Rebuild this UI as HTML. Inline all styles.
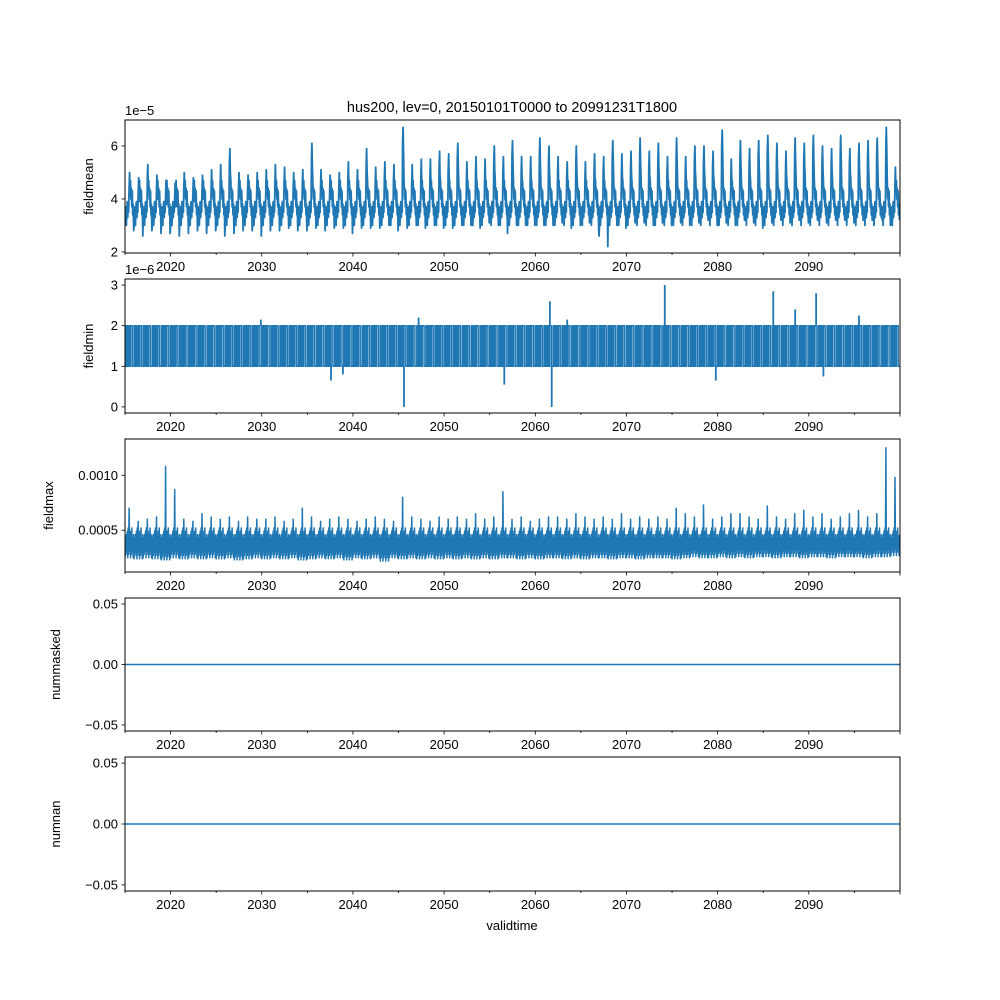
<!DOCTYPE html>
<html><head><meta charset="utf-8"><style>
body{margin:0;background:#fff}
svg{display:block;font-family:"Liberation Sans","DejaVu Sans",sans-serif}
</style></head><body>
<svg id="fig" width="1000" height="1000" xmlns="http://www.w3.org/2000/svg"></svg>
<script>
const years=[];for(let y=2015;y<=2099;y++)years.push(y);
const meanPeaks=[5.0,4.8,5.3,4.9,4.7,4.6,5.0,4.8,4.9,5.1,5.3,5.9,5.0,4.9,5.0,5.1,5.3,5.2,5.0,5.1,6.1,5.1,4.9,5.0,5.4,5.1,5.9,5.2,5.4,5.3,6.7,5.3,5.5,5.5,5.8,5.7,6.1,5.4,5.6,5.5,6.0,5.6,6.2,5.6,5.6,6.3,6.0,5.6,5.4,6.0,5.4,5.7,5.6,6.2,5.7,5.8,6.3,5.8,6.1,5.6,6.3,5.6,6.0,6.0,5.8,6.6,5.5,6.2,5.9,6.2,6.4,6.1,5.8,6.3,6.1,6.4,6.0,5.9,6.4,5.9,6.1,6.2,6.3,6.7,5.2];
const meanTroughs=[2.8,2.6,2.8,2.7,2.7,2.6,2.7,2.8,2.7,2.8,2.6,2.7,2.8,2.8,2.6,2.8,2.8,2.9,2.8,2.8,2.9,2.8,2.9,2.9,2.7,2.9,2.9,2.9,3.0,2.8,2.9,3.0,2.9,3.0,2.9,2.9,3.0,3.0,2.9,3.1,3.0,2.7,3.0,3.0,3.0,3.0,3.0,3.1,2.9,3.0,3.1,2.8,2.2,3.0,2.9,3.1,3.1,3.0,3.1,3.0,3.1,3.0,3.1,3.2,3.0,3.1,3.0,3.2,3.1,2.9,3.1,3.2,3.1,3.2,3.1,3.2,3.1,3.2,3.2,3.1,3.2,3.2,3.3,3.0,3.2];
const minSpikeTimes=[2037.6,2038.9,2045.6,2056.6,2061.8,2061.6,2074.2,2079.8,2086.1,2090.8,2091.6,2088.5,2029.9,2047.2,2063.5,2095.5];
const minSpikeValues=[0.65,0.8,0.0,0.55,0.0,2.6,3.0,0.65,2.85,2.8,0.75,2.4,2.15,2.2,2.15,2.25];
const maxPeaks=[0.00070,0.00058,0.00060,0.00062,0.00108,0.00087,0.00060,0.00058,0.00065,0.00062,0.00060,0.00062,0.00058,0.00062,0.00060,0.00060,0.00062,0.00058,0.00060,0.00070,0.00062,0.00058,0.00060,0.00062,0.00060,0.00058,0.00060,0.00062,0.00060,0.00058,0.00080,0.00062,0.00060,0.00058,0.00062,0.00060,0.00062,0.00060,0.00065,0.00060,0.00062,0.00085,0.00060,0.00062,0.00058,0.00060,0.00062,0.00062,0.00060,0.00065,0.00062,0.00060,0.00062,0.00060,0.00065,0.00060,0.00062,0.00060,0.00062,0.00060,0.00070,0.00065,0.00062,0.00073,0.00060,0.00062,0.00065,0.00065,0.00062,0.00060,0.00072,0.00062,0.00060,0.00065,0.00068,0.00062,0.00065,0.00060,0.00062,0.00065,0.00068,0.00062,0.00065,0.00125,0.00098];
const maxTroughs=[0.00025,0.00024,0.00025,0.00024,0.00023,0.00025,0.00024,0.00025,0.00024,0.00025,0.00024,0.00025,0.00023,0.00024,0.00025,0.00024,0.00025,0.00024,0.00025,0.00023,0.00024,0.00025,0.00024,0.00025,0.00023,0.00025,0.00024,0.00025,0.00022,0.00025,0.00024,0.00025,0.00024,0.00025,0.00024,0.00025,0.00024,0.00025,0.00024,0.00025,0.00024,0.00025,0.00025,0.00024,0.00025,0.00024,0.00025,0.00025,0.00024,0.00025,0.00024,0.00025,0.00025,0.00024,0.00025,0.00025,0.00024,0.00025,0.00025,0.00025,0.00024,0.00025,0.00026,0.00025,0.00025,0.00026,0.00025,0.00026,0.00025,0.00026,0.00026,0.00025,0.00026,0.00026,0.00025,0.00026,0.00026,0.00025,0.00026,0.00026,0.00026,0.00025,0.00026,0.00026,0.00027];
const xTicks=[2020,2030,2040,2050,2060,2070,2080,2090];
const panels=[
 {name:'fieldmean',top:120,bot:253,lo:1.96,hi:6.98,ticks:[2,4,6],labels:['2','4','6'],off:'1e−5',tx:93},
 {name:'fieldmin',top:279,bot:413,lo:-0.15,hi:3.15,ticks:[0,1,2,3],labels:['0','1','2','3'],off:'1e−6',tx:93},
 {name:'fieldmax',top:439,bot:572,lo:0.00012,hi:0.00133,ticks:[0.0005,0.001],labels:['0.0005','0.0010'],tx:53},
 {name:'nummasked',top:598,bot:731,lo:-0.055,hi:0.055,ticks:[-0.05,0,0.05],labels:['−0.05','0.00','0.05'],tx:60},
 {name:'numnan',top:757,bot:891,lo:-0.055,hi:0.055,ticks:[-0.05,0,0.05],labels:['−0.05','0.00','0.05'],tx:60}];
const L=125,R=900,C='#1f77b4';
const svg=document.getElementById('fig');const NS='http://www.w3.org/2000/svg';
function el(t,a,p){const e=document.createElementNS(NS,t);for(const k in a)e.setAttribute(k,a[k]);(p||svg).appendChild(e);return e;}
const X=t=>L+(t-2015)*(R-L)/85;
panels.forEach((p,i)=>{
 const Y=v=>p.bot-(v-p.lo)/(p.hi-p.lo)*(p.bot-p.top);
 const g=el('g',{});
 
 
 const clip=el('clipPath',{id:'c'+i},g);el('rect',{x:L,y:p.top,width:R-L,height:p.bot-p.top},clip);
 const d=el('g',{'clip-path':'url(#c'+i+')'},g);
 
 
 let pts=[];let sw=1.5;
 if(i===0){
  sw=1.8;
  years.forEach((y,k)=>{const pk=meanPeaks[k],tr=meanTroughs[k];
   pts.push([y,tr+0.4],[y+0.05,3.2],[y+0.1,3.7],[y+0.15,3.0],[y+0.2,3.6],[y+0.25,3.9],[y+0.3,3.3],[y+0.35,3.8],[y+0.4,3.5],[y+0.45,pk-0.6],[y+0.5,pk],[y+0.55,pk-0.9],[y+0.6,4.7],[y+0.65,4.0],[y+0.7,4.4],[y+0.75,3.7],[y+0.8,4.3],[y+0.85,3.4],[y+0.9,3.8],[y+0.95,tr]);});
 } else if(i===1){
  years.forEach(y=>{
   for(let s=0;s<6;s++){const t=y+s*0.1;pts.push([t,1],[t,2],[t+0.05,2],[t+0.05,1]);}
   pts.push([y+0.6,1],[y+0.6,2],[y+0.8,2],[y+0.8,1],[y+1,1]);});
 } else if(i===2){
  years.forEach((y,k)=>{const pk=maxPeaks[k],tr=maxTroughs[k];
   for(let s=0;s<10;s++){const t=y+s/10;pts.push([t,tr+0.00003*(s%3)],[t+1/20,s===4?pk:0.00043+0.00003*(s%4)]);}});
 } else {pts=[[2015,0],[2100,0]];}
 el('path',{d:'M'+pts.map(q=>X(q[0]).toFixed(1)+','+Y(q[1]).toFixed(1)).join('L'),fill:'none',stroke:C,'stroke-width':sw,'stroke-linejoin':'round'},d);
 if(i===1){minSpikeTimes.forEach((t,k)=>{const ln=el('line',{x1:X(t),x2:X(t),y1:Y(minSpikeValues[k]<1?1:2),y2:Y(minSpikeValues[k]),stroke:C,'stroke-width':1.8},d);
  
  });}
 el('rect',{x:L,y:p.top,width:R-L,height:p.bot-p.top,fill:'none',stroke:'#000','stroke-width':1},g);
 for(let y=2015;y<=2100;y+=5){const major=y%10===0;el('line',{x1:X(y),x2:X(y),y1:p.bot,y2:p.bot+(major?3.5:2),stroke:'#000','stroke-width':0.8},g);}
 xTicks.forEach(y=>{const t=el('text',{x:X(y),y:p.bot+18,'font-size':13,'text-anchor':'middle'},g);t.textContent=y;});
 p.ticks.forEach((v,k)=>{el('line',{x1:L-3.5,x2:L,y1:Y(v),y2:Y(v),stroke:'#000','stroke-width':0.8},g);
  const t=el('text',{x:L-7,y:Y(v)+4.5,'font-size':13,'text-anchor':'end'},g);t.textContent=p.labels[k];});
 const yt=el('text',{x:p.tx,y:(p.top+p.bot)/2,'font-size':13,'text-anchor':'middle',transform:`rotate(-90 ${p.tx} ${(p.top+p.bot)/2})`},g);
 
 
 yt.textContent=p.name;
 if(p.off){const o=el('text',{x:L,y:p.top-5,'font-size':13},g);o.textContent=p.off;}
});
const title=el('text',{x:512,y:112,'font-size':14.5,'text-anchor':'middle'});


title.textContent='hus200, lev=0, 20150101T0000 to 20991231T1800';
const xl=el('text',{x:512,y:930,'font-size':13,'text-anchor':'middle'});


xl.textContent='validtime';
</script>
</body></html>
